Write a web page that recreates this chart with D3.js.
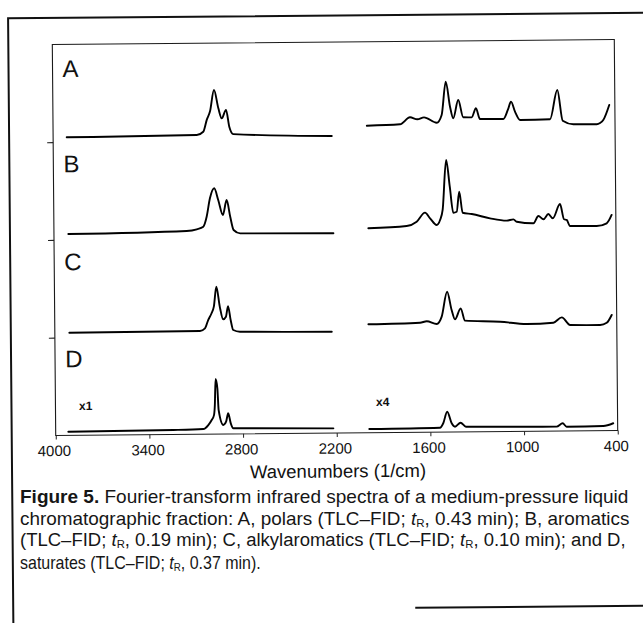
<!DOCTYPE html>
<html>
<head>
<meta charset="utf-8">
<script src="https://cdn.jsdelivr.net/npm/d3@7/dist/d3.min.js"></script>
<style>
  html, body { margin: 0; padding: 0; background: #fff; }
  svg { display: block; }
</style>
</head>
<body>
<svg id="fig" width="643" height="623"></svg>
<script>
// ---- axis ticks and labels ----
const xTicks = [4000, 3400, 2800, 2200, 1600, 1000, 400];
const panelLabels = ["A", "B", "C", "D"];
const regionLabels = ["x1", "x4"];
const xTitle = "Wavenumbers (1/cm)";

// ---- spectra: wavenumber (1/cm) and relative absorbance within each panel ----
// A, polars
const aHighWn  = [3913, 3080, 3038, 3015, 2994, 2967, 2940, 2919, 2891, 2871, 2846, 2215];
const aHighAbs = [0.049, 0.061, 0.094, 0.215, 0.299, 0.520, 0.332, 0.229, 0.315, 0.143, 0.067, 0.038];
const aLowWn   = [1990, 1777, 1713, 1666, 1623, 1542, 1510, 1482, 1456, 1436, 1403, 1372, 1318, 1290, 1265, 1115, 1086, 1065, 1040, 1008, 816, 768, 735, 667, 517, 496, 475, 436];
const aLowAbs  = [0.141, 0.152, 0.223, 0.202, 0.221, 0.165, 0.244, 0.584, 0.328, 0.209, 0.395, 0.218, 0.217, 0.309, 0.199, 0.197, 0.289, 0.374, 0.272, 0.186, 0.190, 0.489, 0.174, 0.137, 0.135, 0.147, 0.178, 0.331];
// B, aromatics
const bHighWn  = [3908, 3150, 3085, 3043, 3021, 2999, 2971, 2946, 2917, 2892, 2870, 2849, 2807, 2210];
const bHighAbs = [0.059, 0.080, 0.096, 0.122, 0.224, 0.412, 0.514, 0.394, 0.240, 0.393, 0.222, 0.086, 0.051, 0.043];
const bLowWn   = [1986, 1740, 1676, 1622, 1590, 1548, 1526, 1509, 1484, 1462, 1441, 1419, 1402, 1381, 1323, 1206, 1099, 1056, 1035, 928, 896, 864, 832, 804, 757, 732, 715, 694, 523, 459, 427];
const bLowAbs  = [0.091, 0.111, 0.154, 0.246, 0.188, 0.119, 0.170, 0.272, 0.783, 0.509, 0.243, 0.253, 0.457, 0.242, 0.228, 0.182, 0.157, 0.170, 0.145, 0.128, 0.202, 0.168, 0.221, 0.177, 0.322, 0.166, 0.159, 0.096, 0.094, 0.121, 0.206];
// C, alkylaromatics
const cHighWn  = [3907, 3070, 3038, 3017, 2995, 2980, 2963, 2942, 2921, 2903, 2889, 2873, 2857, 2814, 2226];
const cHighAbs = [0.050, 0.056, 0.082, 0.167, 0.236, 0.303, 0.507, 0.303, 0.173, 0.199, 0.308, 0.165, 0.063, 0.045, 0.036];
const cLowWn   = [1991, 1660, 1617, 1553, 1521, 1485, 1457, 1436, 1399, 1372, 1147, 976, 806, 752, 699, 507, 464, 432];
const cLowAbs  = [0.109, 0.121, 0.135, 0.106, 0.181, 0.435, 0.248, 0.152, 0.264, 0.138, 0.124, 0.098, 0.109, 0.163, 0.084, 0.081, 0.104, 0.183];
// D, saturates
const dHighWn  = [3919, 3246, 3054, 3022, 3000, 2985, 2979, 2973, 2962, 2955, 2926, 2908, 2894, 2878, 2862, 2221];
const dHighAbs = [0.037, 0.045, 0.052, 0.093, 0.144, 0.194, 0.297, 0.563, 0.468, 0.246, 0.092, 0.125, 0.211, 0.108, 0.057, 0.048];
const dLowWn   = [1991, 1538, 1517, 1491, 1463, 1442, 1406, 1372, 791, 752, 727, 492, 428];
const dLowAbs  = [0.038, 0.045, 0.090, 0.208, 0.089, 0.054, 0.094, 0.053, 0.045, 0.079, 0.044, 0.048, 0.075];

// ---- caption ----
const captionLines = [
  [{t: "Figure 5.", b: true}, {t: " Fourier-transform infrared spectra of a medium-pressure liquid"}],
  [{t: "chromatographic fraction: A, polars (TLC\u2013FID; "}, {t: "t", i: true}, {t: "R", sub: true}, {t: ", 0.43 min); B, aromatics"}],
  [{t: "(TLC\u2013FID; "}, {t: "t", i: true}, {t: "R", sub: true}, {t: ", 0.19 min); C, alkylaromatics (TLC\u2013FID; "}, {t: "t", i: true}, {t: "R", sub: true}, {t: ", 0.10 min); and D,"}],
  [{t: "saturates (TLC\u2013FID; "}, {t: "t", i: true}, {t: "R", sub: true}, {t: ", 0.37 min)."}]
];

// ---- layout ----
const frame = {left: 54, right: 616, top: 42, bottom: 433};
const bandH = (frame.bottom - frame.top) / 4;
const letterBaselines = [74.7, 170, 268, 365];
const captionLayout = {x: 20, y: [503, 524.5, 546, 568.5], widths: [609, 610, 606, 241]};
const sansFont = "'Liberation Sans', Arial, Helvetica, sans-serif";

const spectra = [
  {high: [aHighWn, aHighAbs], low: [aLowWn, aLowAbs]},
  {high: [bHighWn, bHighAbs], low: [bLowWn, bLowAbs]},
  {high: [cHighWn, cHighAbs], low: [cLowWn, cLowAbs]},
  {high: [dHighWn, dHighAbs], low: [dLowWn, dLowAbs]}
];

const svg = d3.select("#fig");
svg.append("rect").attr("width", 643).attr("height", 623).attr("fill", "#fff");

// the printed figure sits at a slight tilt
const g = svg.append("g").attr("transform", "rotate(-0.5,335,237)");

const x = d3.scaleLinear().domain([4000, 400]).range([frame.left, frame.right]);
const yBands = d3.scaleLinear().domain([0, 4]).range([frame.bottom, frame.top]);

// outer box of the figure
g.append("path")
  .attr("d", "M10,650 V15.5 H680")
  .attr("fill", "none").attr("stroke", "#111").attr("stroke-width", 2);
g.append("path")
  .attr("d", "M412,608.5 H680")
  .attr("fill", "none").attr("stroke", "#111").attr("stroke-width", 2);

// plot frame
g.append("rect")
  .attr("x", frame.left).attr("y", frame.top)
  .attr("width", frame.right - frame.left).attr("height", frame.bottom - frame.top)
  .attr("fill", "none").attr("stroke", "#1a1a1a").attr("stroke-width", 1.1);

// bottom axis
const xAxis = g.append("g")
  .attr("transform", `translate(0,${frame.bottom})`)
  .call(d3.axisBottom(x).tickValues(xTicks).tickSize(4).tickSizeOuter(0).tickPadding(6).tickFormat(d3.format("d")));
xAxis.select(".domain").remove();
xAxis.selectAll("line").attr("stroke", "#222");
xAxis.selectAll("text")
  .attr("dx", -2)
  .attr("fill", "#111")
  .style("font-family", sansFont)
  .style("font-size", "15px");

// left axis: panel separators
const yAxis = g.append("g")
  .attr("transform", `translate(${frame.left},0)`)
  .call(d3.axisLeft(yBands).tickValues([1, 2, 3]).tickSize(6).tickSizeOuter(0).tickFormat(""));
yAxis.select(".domain").remove();
yAxis.selectAll("line").attr("stroke", "#222").attr("stroke-width", 1.2);

// axis title
g.append("text")
  .attr("x", 336).attr("y", 477.5)
  .attr("text-anchor", "middle")
  .attr("fill", "#111")
  .style("font-family", sansFont)
  .style("font-size", "18.5px")
  .text(xTitle);

// spectra
spectra.forEach((s, i) => {
  const y = d3.scaleLinear().domain([0, 1])
    .range([frame.top + (i + 1) * bandH, frame.top + i * bandH]);
  const line = d3.line()
    .x(d => x(d[0])).y(d => y(d[1]))
    .curve(d3.curveMonotoneX);
  [s.high, s.low].forEach(([wn, ab]) => {
    g.append("path")
      .datum(wn.map((w, k) => [w, ab[k]]))
      .attr("d", line)
      .attr("fill", "none")
      .attr("stroke", "#000")
      .attr("stroke-width", 1.9)
      .attr("stroke-linejoin", "round")
      .attr("stroke-linecap", "round");
  });
  g.append("text")
    .attr("x", 64).attr("y", letterBaselines[i])
    .attr("fill", "#111")
    .style("font-family", sansFont)
    .style("font-size", "24px")
    .text(panelLabels[i]);
});

// region scale factors
[[77.5, 407.8], [374.5, 406.4]].forEach((p, k) => {
  g.append("text")
    .attr("x", p[0]).attr("y", p[1])
    .attr("fill", "#111")
    .style("font-family", sansFont)
    .style("font-size", "12px")
    .style("font-weight", "bold")
    .text(regionLabels[k]);
});

// caption (set level), each line condensed to its printed width
const cap = svg.append("g");
captionLines.forEach((segs, li) => {
  const t = cap.append("text")
    .attr("x", 0).attr("y", 0)
    .attr("fill", "#161616")
    .style("font-family", sansFont)
    .style("font-size", "18px");
  let shift = 0;
  segs.forEach(s => {
    const ts = t.append("tspan").text(s.t);
    if (s.b) ts.style("font-weight", "bold");
    if (s.i) ts.style("font-style", "italic");
    if (s.sub) {
      ts.attr("dy", 2).style("font-size", "11px");
      shift = 2;
    } else if (shift) {
      ts.attr("dy", -shift);
      shift = 0;
    }
  });
  const w = t.node().getComputedTextLength();
  const sx = captionLayout.widths[li] / w;
  t.attr("transform", `translate(${captionLayout.x},${captionLayout.y[li]}) scale(${sx},1)`);
});
</script>
</body>
</html>
